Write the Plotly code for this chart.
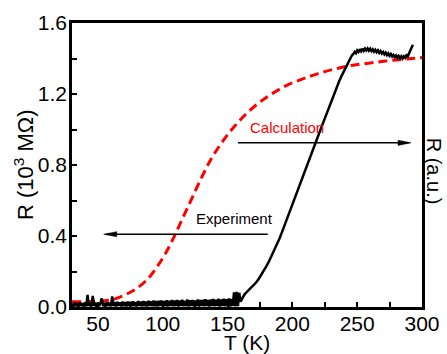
import plotly.graph_objects as go

# ---------------- data ----------------
# Experiment: baseline (1 K steps, 30..160 K)
exp_base_T = list(range(30, 161))
exp_base_R = [
    0.020, 0.003, 0.024, 0.005, 0.021, 0.002, 0.025, 0.006, 0.022, 0.003,
    0.026, 0.004, 0.068, 0.005, 0.023, 0.002, 0.062, 0.006, 0.024, 0.003,
    0.022, 0.005, 0.025, 0.048, 0.004, 0.023, 0.003, 0.026, 0.006, 0.024, 0.004,
    0.060, 0.005, 0.027, 0.003, 0.029, 0.006, 0.026, 0.004, 0.030, 0.005,
    0.028, 0.003, 0.031, 0.006, 0.029, 0.004, 0.032, 0.005, 0.027, 0.003,
    0.033, 0.006, 0.030, 0.004, 0.034, 0.005, 0.031, 0.003, 0.035, 0.006,
    0.032, 0.004, 0.036, 0.005, 0.033, 0.003, 0.035, 0.006, 0.037, 0.004,
    0.034, 0.005, 0.038, 0.003, 0.035, 0.006, 0.039, 0.004, 0.036, 0.005,
    0.040, 0.003, 0.037, 0.006, 0.041, 0.004, 0.035, 0.005, 0.042, 0.003,
    0.038, 0.006, 0.040, 0.004, 0.037, 0.005, 0.043, 0.003, 0.039, 0.006,
    0.041, 0.004, 0.044, 0.005, 0.040, 0.003, 0.042, 0.006, 0.045, 0.004,
    0.041, 0.005, 0.046, 0.003, 0.043, 0.006, 0.047, 0.004, 0.044, 0.005,
    0.048, 0.003, 0.045, 0.006, 0.082, 0.004, 0.085, 0.005, 0.080, 0.030,
]
# Experiment: transition
exp_rise_T = [161, 162, 163, 164, 166, 168, 170, 172, 174, 176, 178, 180, 182, 184,
              186, 188, 190, 192, 194, 196, 198, 200, 202, 204, 206, 208, 210, 212,
              214, 216, 218, 220, 222, 224, 226, 228, 230, 232, 234, 236, 238, 240,
              242, 244, 245, 246]
exp_rise_R = [0.045, 0.060, 0.070, 0.078, 0.092, 0.105, 0.120, 0.138, 0.158, 0.180,
              0.205, 0.230, 0.258, 0.288, 0.318, 0.350, 0.385, 0.422, 0.460, 0.498,
              0.537, 0.576, 0.615, 0.654, 0.693, 0.732, 0.771, 0.810, 0.849, 0.888,
              0.927, 0.966, 1.005, 1.044, 1.083, 1.122, 1.160, 1.198, 1.235, 1.270,
              1.302, 1.332, 1.362, 1.390, 1.405, 1.418]
# Experiment: high-temperature plateau (1 K steps, 247..293 K)
exp_top_T = list(range(247, 294))
exp_top_R = [1.425, 1.438, 1.430, 1.446, 1.437, 1.452, 1.441, 1.455, 1.443, 1.456,
             1.445, 1.457, 1.444, 1.455, 1.442, 1.452, 1.439, 1.449, 1.436, 1.446,
             1.432, 1.442, 1.428, 1.437, 1.423, 1.433, 1.419, 1.429, 1.415, 1.425,
             1.411, 1.420, 1.407, 1.417, 1.404, 1.414, 1.402, 1.412, 1.400, 1.412,
             1.404, 1.418, 1.412, 1.432, 1.448, 1.462, 1.478]

# Calculation (red dashed)
calc_T = [30, 40, 50, 58, 65, 72, 80, 88, 95, 102, 109, 116, 123, 130, 137, 144,
          151, 158, 166, 175, 185, 196, 208, 220, 232, 245, 260, 275, 290, 300]
calc_R = [0.030, 0.030, 0.032, 0.038, 0.050, 0.072, 0.105, 0.155, 0.220, 0.300,
          0.400, 0.510, 0.620, 0.730, 0.830, 0.910, 0.980, 1.040, 1.100, 1.155,
          1.205, 1.250, 1.285, 1.315, 1.340, 1.360, 1.375, 1.388, 1.398, 1.405]

# Labels / arrows (tail T, head T, R)
label_texts = ["Calculation", "Experiment"]
label_T = [196, 155]
label_R = [1.01, 0.50]
label_colors = ["#ff0000", "#000000"]
arrow_tail_T = [158, 181]
arrow_head_T = [290, 56]
arrow_R = [0.925, 0.41]

x_ticks = [50, 100, 150, 200, 250, 300]
y_ticks = [0.0, 0.4, 0.8, 1.2, 1.6]

x_title = "T (K)"
y_title = "R (10<sup>3</sup> MΩ)"
y2_title = "R (a.u.)"

FONT = "Liberation Sans, Arial, sans-serif"

exp_T = exp_base_T + exp_rise_T + exp_top_T
exp_R = exp_base_R + exp_rise_R + exp_top_R

fig = go.Figure()
fig.add_trace(go.Scatter(x=calc_T, y=calc_R, mode="lines",
                         line=dict(color="#ff0000", width=3, dash="9px,5px", shape="spline"),
                         hoverinfo="skip", showlegend=False))
fig.add_trace(go.Scatter(x=exp_T, y=exp_R, mode="lines",
                         line=dict(color="#000000", width=2.5),
                         hoverinfo="skip", showlegend=False))

shapes = []
annotations = []
for tt, ht, r in zip(arrow_tail_T, arrow_head_T, arrow_R):
    shapes.append(dict(type="line", xref="x", yref="y", x0=tt, x1=ht, y0=r, y1=r,
                       line=dict(color="black", width=1.5)))
    d = 1 if ht > tt else -1
    shapes.append(dict(type="path", xref="x", yref="y", xsizemode="pixel", ysizemode="pixel",
                       xanchor=ht, yanchor=r,
                       path=f"M{2*d},0 L{-11*d},2.6 L{-11*d},-2.6 Z",
                       fillcolor="black", line=dict(color="black", width=0.5)))
for txt, t, r, c in zip(label_texts, label_T, label_R, label_colors):
    annotations.append(dict(x=t, y=r, xref="x", yref="y", text=txt, showarrow=False,
                            font=dict(family=FONT, size=15, color=c),
                            xanchor="center", yanchor="middle"))
annotations.append(dict(x=1, y=0.48, xref="paper", yref="paper", text=y2_title,
                        showarrow=False, textangle=90, xshift=12,
                        font=dict(family=FONT, size=20, color="black"),
                        xanchor="center", yanchor="middle"))
annotations.append(dict(x=0.5, y=0, xref="paper", yref="paper", text=x_title,
                        showarrow=False, yshift=-35,
                        font=dict(family=FONT, size=21, color="black"),
                        xanchor="center", yanchor="middle"))
annotations.append(dict(x=0, y=0.5, xref="paper", yref="paper", text=y_title,
                        showarrow=False, textangle=-90, xshift=-48,
                        font=dict(family=FONT, size=22, color="black"),
                        xanchor="center", yanchor="middle"))

axis_common = dict(showgrid=False, zeroline=False, showline=True, linecolor="black",
                   linewidth=2.5, mirror=True, ticks="inside", ticklen=5, tickwidth=2,
                   tickcolor="black", automargin=False,
                   tickfont=dict(family=FONT, size=21, color="black"))

fig.update_layout(
    template="none",
    width=447, height=354,
    margin=dict(l=72, r=25, t=23, b=47),
    paper_bgcolor="white", plot_bgcolor="white",
    shapes=shapes, annotations=annotations,
    xaxis=dict(range=[30, 300], tickvals=x_ticks, ticktext=[str(v) for v in x_ticks],
               ticklabelstandoff=-4,
               minor=dict(dtick=25, tick0=0, ticks="inside", ticklen=5, tickwidth=2, tickcolor="black"),
               **axis_common),
    yaxis=dict(range=[0, 1.6], tickvals=y_ticks, ticktext=[f"{v:.1f}" for v in y_ticks],
               ticklabelstandoff=-2,
               minor=dict(dtick=0.2, tick0=0, ticks="inside", ticklen=5, tickwidth=2, tickcolor="black"),
               **axis_common),
)

fig.write_html("out.html", config={"displayModeBar": False},
               post_script="document.body.style.margin='0px';document.body.style.overflow='hidden';")
